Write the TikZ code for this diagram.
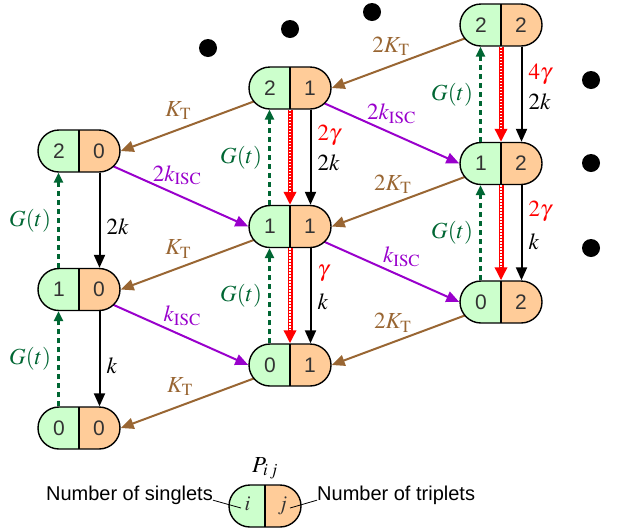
\documentclass[tikz,border=0pt]{standalone}
\usepackage{mathptmx}
\usepackage[no-math]{fontspec}
\newfontfamily\arial{Liberation Sans}
\usepackage{tikz}
\usetikzlibrary{arrows.meta,positioning,calc,backgrounds}
\definecolor{sing}{HTML}{CCFFCC}
\definecolor{trip}{HTML}{FFCC99}
\definecolor{brn}{HTML}{996633}
\definecolor{pur}{HTML}{9900CC}
\definecolor{dgr}{HTML}{006633}
\newcommand{\halves}[3][40pt]{\makebox[#1]{#2}\makebox[#1]{#3}}
\tikzset{
  pill/.style={draw,line width=1.4pt,rounded corners=21pt,minimum height=42pt,inner xsep=1pt,inner ysep=0pt,
    font=\arial\fontsize{21}{21}\selectfont,text=black!80,
    path picture={\fill[sing,sharp corners] (path picture bounding box.south west) rectangle (path picture bounding box.north);
      \fill[trip,sharp corners] (path picture bounding box.south) rectangle (path picture bounding box.north east);
      \draw[line width=1.4pt] (path picture bounding box.south) -- (path picture bounding box.north);}},
  lab/.style={font=\fontsize{23}{25}\selectfont,inner sep=2pt},
  txt/.style={font=\arial\fontsize{20}{22}\selectfont,inner sep=0pt},
  karr/.style={-{Triangle[length=13pt,width=11pt]},line width=2pt},
  tarr/.style={karr,draw=brn},
  iarr/.style={karr,draw=pur},
  garr/.style={-{Triangle[length=10pt,width=9pt]},draw=dgr,line width=3pt,dash pattern=on 5pt off 4pt},
  rarr/.style={-{Triangle[length=13pt,width=12pt]},draw=red,line width=5pt},
  rdot/.style={draw=white,line width=1.8pt,dash pattern=on 1.5pt off 1.5pt,shorten >=13pt},
}
\begin{document}
\begin{tikzpicture}[x=1pt,y=-1pt]
\useasboundingbox (0,0) rectangle (617,531);
\foreach \x/\y in {208/48,290/29,372/12,591/80,591/163,591/248} \fill (\x,\y) circle (9pt);
\foreach \j in {0,1,2}{\foreach \i in {2,1,0}{
  \node[pill] (p\i\j) at ({79+211*\j},{151-63*\j+138.5*(2-\i)}) {\halves{\i}{\j}};}}
\begin{scope}[on background layer]
\draw[tarr] (p21.center) -- node[lab,text=brn,pos=0.66,above=7pt] (kt0) {$K_{\mathrm{T}}$} (p20.east);
\draw[tarr] (p11.center) -- node[lab,text=brn,pos=0.66,above=7pt] (kt1) {$K_{\mathrm{T}}$} (p10.east);
\draw[tarr] (p01.center) -- node[lab,text=brn,pos=0.65,above=7pt] (kt2) {$K_{\mathrm{T}}$} (p00.east);
\draw[tarr] (p22.center) -- node[lab,text=brn,pos=0.65,above=7pt] (kt3) {$2K_{\mathrm{T}}$} (p21.east);
\draw[tarr] (p12.center) -- node[lab,text=brn,pos=0.64,above=7pt] (kt4) {$2K_{\mathrm{T}}$} (p11.east);
\draw[tarr] (p02.center) -- node[lab,text=brn,pos=0.64,above=7pt] (kt5) {$2K_{\mathrm{T}}$} (p01.east);
\draw[iarr] (p20.center) -- node[lab,text=pur,pos=0.58,above=7pt] (ki0) {$2k_{\mathrm{ISC}}$} (p11.west);
\draw[iarr] (p10.center) -- node[lab,text=pur,pos=0.61,above=7pt] (ki1) {$k_{\mathrm{ISC}}$} (p01.west);
\draw[iarr] (p21.center) -- node[lab,text=pur,pos=0.6,above=7pt] (ki2) {$2k_{\mathrm{ISC}}$} (p12.west);
\draw[iarr] (p11.center) -- node[lab,text=pur,pos=0.66,above=7pt] (ki3) {$k_{\mathrm{ISC}}$} (p02.west);
\end{scope}
\foreach \j in {0,1,2}{\foreach \i/\u in {1/2,0/1}{
  \draw[garr] ([xshift=-20.5pt]p\i\j.north) -- node[lab,text=dgr,left=4pt,pos=0.5] (g\i\j) {$G(t)$} ([xshift=-20.5pt]p\u\j.south);}}
\draw[karr] ([xshift=20.5pt]p20.south) -- node[lab,right=4pt,pos=0.57] (k20) {$2k$} ([xshift=20.5pt]p10.north);
\draw[karr] ([xshift=20.5pt]p10.south) -- node[lab,right=4pt,pos=0.57] (k10) {$k$} ([xshift=20.5pt]p00.north);
\draw[rarr] (p21.south) -- (p11.north); \draw[rdot] (p21.south) -- (p11.north);
\draw[rarr] (p11.south) -- (p01.north); \draw[rdot] (p11.south) -- (p01.north);
\draw[rarr] (p22.south) -- (p12.north); \draw[rdot] (p22.south) -- (p12.north);
\draw[rarr] (p12.south) -- (p02.north); \draw[rdot] (p12.south) -- (p02.north);
\draw[karr] ([xshift=20.5pt]p21.south) -- node[lab,text=red,right=4pt,pos=0.27] (r21) {$2\gamma$} node[lab,right=4pt,pos=0.56] (k21) {$2k$} ([xshift=20.5pt]p11.north);
\draw[karr] ([xshift=20.5pt]p11.south) -- node[lab,text=red,right=4pt,pos=0.27] (r11) {$\gamma$} node[lab,right=4pt,pos=0.56] (k11) {$k$} ([xshift=20.5pt]p01.north);
\draw[karr] ([xshift=20.5pt]p22.south) -- node[lab,text=red,right=4pt,pos=0.29] (r22) {$4\gamma$} node[lab,right=4pt,pos=0.58] (k22) {$2k$} ([xshift=20.5pt]p12.north);
\draw[karr] ([xshift=20.5pt]p12.south) -- node[lab,text=red,right=4pt,pos=0.28] (r12) {$2\gamma$} node[lab,right=4pt,pos=0.59] (k12) {$k$} ([xshift=20.5pt]p02.north);
\node[pill] (leg) at (265,506) {\halves[35pt]{$i$}{$j$}};
\node[lab,above=3pt of leg] (pij) {$P_{i\,j}$};
\node[txt,anchor=east] (sng) at (213,495) {Number of singlets};
\node[txt,anchor=west] (tpl) at (317,495) {Number of triplets};
\coordinate (ci) at (241,508); \coordinate (cj) at (290,508);
\draw[line width=0.8pt] (sng.base east) -- (ci); \draw[line width=0.8pt] (tpl.base west) -- (cj);
\end{tikzpicture}
\end{document}
